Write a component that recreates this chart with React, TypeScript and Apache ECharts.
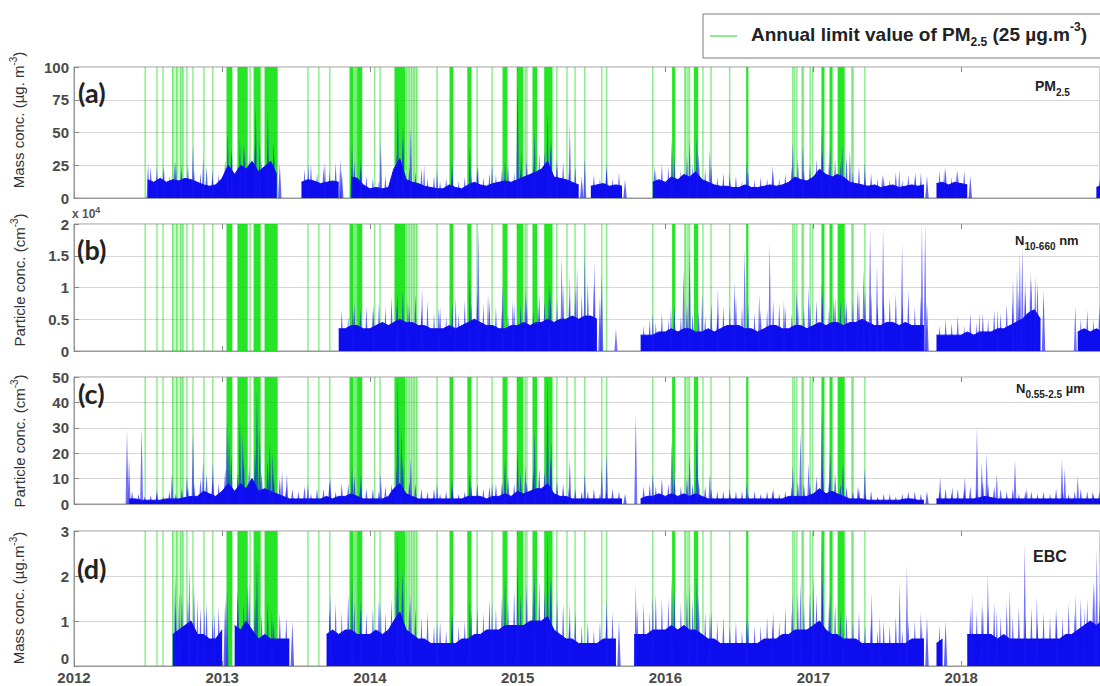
import React, { useEffect, useRef } from "react";
import * as echarts from "echarts";

const N = null;

// Half-month bins: 1st and 16th of each month, Jan 2012 ... Dec 2018 (24 per year)
const binYears = [2012, 2013, 2014, 2015, 2016, 2017, 2018];

// (a) PM2.5: dense-band upper level and half-month upper excursion (µg m-3)
const pm25Band = [
  N, N, N, N, N, N, N, N, N, N, N, N, 14, 12, 15, 12, 14, 13, 15, 14, 12, 10, 9, 10,
  15, 25, 18, 25, 22, 28, 20, 24, 28, 18, N, N, N, 12, 14, 13, 11, 12, 13, 12, N, 16, 15, 10,
  7, 8, 7, 8, 22, 30, 14, 12, 11, 9, 8, 7, 7, 10, 8, 7, 10, 12, 10, 9, 11, 12, 13, 12,
  14, 16, 18, 20, 22, 28, 16, 15, 14, 12, 10, N, 9, 10, 11, 9, 10, 9, N, N, N, N, 12, 14,
  12, 16, 14, 18, 16, 20, 14, 12, 10, 9, 9, 8, 8, 10, 8, 8, 9, 10, 9, 10, 12, 16, 14, 13,
  16, 22, 18, 16, 18, 16, 12, 11, 10, 9, 10, 8, 9, 10, 8, 9, 10, 9, 10, N, 11, 12, 10, 12,
  11, 10, N, N, N, N, N, N, N, N, N, N, N, N, N, N, N, N, N, N, N, N, 8, 10,
];
const pm25Fringe = [
  N, N, N, N, N, N, N, N, N, N, N, N, 24, 18, 22, 17, 28, 20, 26, 22, 19, 24, 15, 18,
  30, 36, 26, 40, 32, 44, 30, 38, 40, 26, N, N, N, 22, 26, 19, 24, 20, 27, 21, N, 28, 24, 17,
  15, 13, 17, 14, 34, 46, 24, 20, 23, 15, 17, 13, 15, 19, 13, 16, 17, 24, 16, 19, 18, 23, 26, 19,
  22, 30, 26, 34, 36, 42, 25, 28, 22, 24, 16, N, 18, 15, 22, 15, 19, 14, N, N, N, N, 21, 26,
  24, 30, 22, 32, 26, 34, 22, 25, 16, 19, 14, 17, 13, 20, 14, 16, 15, 20, 15, 19, 24, 30, 22, 26,
  30, 36, 27, 30, 28, 32, 20, 24, 16, 19, 15, 17, 14, 20, 14, 18, 16, 19, 17, N, 21, 24, 16, 22,
  21, 17, N, N, N, N, N, N, N, N, N, N, N, N, N, N, N, N, N, N, N, N, 14, 18,
];

// (b) N10-660nm (cm-3)
const n10Band = [
  N, N, N, N, N, N, N, N, N, N, N, N, N, N, N, N, N, N, N, N, N, N, N, N,
  N, N, N, N, N, N, N, N, N, N, N, N, N, N, N, N, N, N, N, 3500, 3500, 4000, 4000, 3500,
  3500, 4000, 4500, 4000, 4500, 5000, 4500, 4500, 4000, 4000, 3500, 3500, 3500, 4000, 3500, 4000, 4500, 5000, 4500, 4000, 4000, 3500, 3500, 4000,
  4000, 4500, 4000, 4500, 4500, 5000, 4500, 5000, 5000, 5500, 5000, 5500, 5500, 5000, N, N, N, N, N, N, 2500, 2500, 2500, 3000,
  3000, 3500, 3000, 3500, 3500, 3000, 3000, 3500, 3000, 3500, 4000, 4000, 4000, 3500, 3500, 3000, 3500, 4000, 4000, 3500, 3500, 4000, 4000, 3500,
  4000, 4500, 4000, 4500, 4500, 4000, 4500, 4500, 5000, 4500, 4000, 4000, 4500, 4500, 4000, 4500, 4000, 4000, 4000, N, 2500, 2500, 2500, 2500,
  2500, 3000, 2500, 3000, 3000, 3000, 3500, 3500, 4000, 4500, 5000, 6000, 6500, 5000, N, N, N, N, N, 3000, 3500, 3000, 3500, 3000,
];
const n10Fringe = [
  N, N, N, N, N, N, N, N, N, N, N, N, N, N, N, N, N, N, N, N, N, N, N, N,
  N, N, N, N, N, N, N, N, N, N, N, N, N, N, N, N, N, N, N, 6500, 5500, 7500, 6500, 7000,
  6500, 7500, 7000, 8500, 7500, 9500, 7000, 9000, 6500, 8000, 6000, 7000, 5500, 7500, 6000, 8000, 7500, 9500, 7500, 8000, 7000, 6500, 6000, 7500,
  7500, 8500, 6500, 9000, 8000, 9500, 8000, 10500, 8500, 10000, 9000, 11000, 10500, 8500, N, N, N, N, N, N, 4000, 5000, 4500, 6000,
  5000, 7000, 5500, 7500, 6000, 6500, 5500, 7500, 6000, 7000, 7000, 8500, 7000, 7500, 6000, 6500, 6500, 8000, 7500, 7000, 6000, 8000, 7000, 7500,
  8000, 9000, 7000, 8500, 8000, 8000, 8000, 9500, 9500, 9000, 7500, 8500, 8500, 9000, 7500, 9500, 7000, 8500, 7500, N, 4000, 5000, 4500, 5500,
  4000, 6000, 4500, 6000, 5000, 6500, 6000, 7500, 7500, 9500, 9500, 11500, 11000, 9500, N, N, N, N, N, 5000, 6500, 5000, 7000, 5000,
];

// (c) N0.55-2.5µm (cm-3)
const n055Band = [
  N, N, N, N, N, N, N, N, N, 2, 2, 1.5, 1.5, 1.5, 1.5, 2, 2, 2, 2.5, 3, 3, 5, 4, 3,
  5, 8, 5, 8, 6, 10, 5, 6, 5, 4, 3, 2, 2, 2, 2, 2, 2, 3, 2, 3, 3, 4, 3, 2,
  2, 2, 2, 3, 6, 8, 4, 3, 2, 2, 2, 2, 2, 2, 2, 2, 3, 3, 3, 2, 3, 3, 4, 3,
  5, 4, 5, 6, 6, 8, 4, 3, 3, 2, 2, 2, 2, 2, 2, 2, 2, 2, N, N, 2, 3, 3, 4,
  3, 4, 3, 4, 3, 4, 3, 2, 2, 2, 2, 2, 2, 2, 2, 2, 2, 2, 2, 2, 3, 3, 3, 3,
  4, 6, 4, 5, 4, 3, 2, 2, 2, 1.5, 1.5, 1.5, 1.5, 1.5, 1.5, 2, 2, 1.5, 1.5, N, 2, 2, 2, 2,
  2, 2, 2, 2.5, 3, 2.5, 2, 2, 2, 2, 2, 2, 2, 2, 2, 2, 2, 2, 2, 2, 2, 2, 2, 2,
];
const n055Fringe = [
  N, N, N, N, N, N, N, N, N, 5, 4, 3, 3.5, 4, 3, 5, 4, 6, 7, 8, 10, 12, 9, 8,
  14, 19, 12, 18, 15, 22, 13, 17, 11, 10, 7, 6, 5, 7, 4, 6, 6, 9, 5, 8, 8, 11, 7, 6,
  6, 5, 7, 8, 14, 18, 9, 8, 6, 5, 6, 4, 5, 6, 4, 5, 7, 8, 6, 7, 8, 9, 11, 8,
  12, 9, 13, 14, 13, 18, 9, 8, 7, 6, 5, 5, 6, 4, 5, 6, 5, 4, N, N, 7, 8, 7, 10,
  8, 11, 7, 10, 8, 10, 7, 6, 5, 5, 4, 5, 5, 4, 5, 4, 5, 6, 4, 5, 7, 9, 8, 8,
  11, 14, 9, 12, 8, 7, 5, 6, 4, 5, 3, 4, 4, 3, 4, 5, 5, 4, 5, N, 5, 6, 4, 6,
  6, 7, 6, 9, 8, 7, 6, 5, 6, 4, 5, 5, 4, 5, 4, 6, 5, 4, 5, 6, 5, 4, 5, 5,
];

// (d) EBC (µg m-3)
const ebcBand = [
  N, N, N, N, N, N, N, N, N, N, N, N, N, N, N, N, 0.7, 0.8, 0.9, 1.0, 0.7, 0.7, 0.6, 0.6,
  0.8, N, 0.9, 0.8, 1.0, 0.8, 0.6, 0.7, 0.6, 0.6, 0.6, 0.6, N, N, N, N, N, 0.7, 0.8, 0.7, 0.8, 0.8, 0.7, 0.7,
  0.7, 0.8, 0.7, 0.8, 1.0, 1.2, 0.8, 0.7, 0.6, 0.6, 0.5, 0.5, 0.5, 0.5, 0.5, 0.6, 0.6, 0.7, 0.7, 0.8, 0.8, 0.8, 0.9, 0.9,
  0.9, 0.9, 1.0, 1.0, 1.0, 1.1, 0.8, 0.7, 0.6, 0.6, 0.5, 0.5, 0.5, 0.5, 0.6, 0.6, 0.6, N, N, 0.7, 0.7, 0.7, 0.8, 0.8,
  0.8, 0.9, 0.8, 0.9, 0.8, 0.8, 0.7, 0.6, 0.6, 0.5, 0.5, 0.5, 0.5, 0.5, 0.5, 0.5, 0.6, 0.6, 0.6, 0.7, 0.7, 0.8, 0.8, 0.8,
  0.9, 1.0, 0.8, 0.7, 0.7, 0.6, 0.6, 0.6, 0.5, 0.5, 0.5, 0.5, 0.5, 0.5, 0.5, 0.5, 0.6, 0.6, 0.6, N, 0.5, 0.6, N, N,
  N, 0.7, 0.7, 0.7, 0.7, 0.7, 0.6, 0.7, 0.6, 0.6, 0.6, 0.6, 0.6, 0.6, 0.6, 0.6, 0.6, 0.7, 0.7, 0.8, 0.9, 1.0, 0.9, 1.0,
];
const ebcFringe = [
  N, N, N, N, N, N, N, N, N, N, N, N, N, N, N, N, 1.4, 1.6, 1.5, 1.8, 1.3, 1.4, 1.1, 1.3,
  1.5, N, 1.7, 1.4, 1.8, 1.5, 1.2, 1.4, 1.0, 1.2, 1.1, 1.0, N, N, N, N, N, 1.3, 1.4, 1.2, 1.6, 1.4, 1.3, 1.2,
  1.3, 1.5, 1.2, 1.5, 1.8, 2.0, 1.4, 1.3, 1.1, 1.2, 0.9, 1.0, 0.8, 1.1, 0.9, 1.0, 1.2, 1.3, 1.2, 1.5, 1.3, 1.6, 1.5, 1.7,
  1.6, 1.8, 1.7, 1.9, 1.7, 2.0, 1.5, 1.4, 1.0, 1.2, 0.9, 1.0, 0.8, 1.0, 1.1, 1.2, 1.0, N, N, 1.3, 1.4, 1.2, 1.6, 1.5,
  1.5, 1.7, 1.4, 1.6, 1.5, 1.6, 1.2, 1.2, 1.0, 1.1, 0.9, 1.0, 0.8, 1.0, 0.9, 0.9, 1.1, 1.2, 1.0, 1.3, 1.2, 1.6, 1.4, 1.6,
  1.6, 1.9, 1.4, 1.4, 1.2, 1.2, 1.0, 1.2, 0.9, 1.1, 0.8, 1.0, 0.9, 1.1, 0.8, 1.0, 1.0, 1.2, 1.1, N, 0.9, 1.0, N, N,
  N, 1.3, 1.2, 1.4, 1.3, 1.4, 1.1, 1.4, 1.1, 1.3, 1.1, 1.3, 1.0, 1.2, 1.1, 1.3, 1.1, 1.4, 1.2, 1.5, 1.5, 1.9, 1.5, 1.8,
];

// Individual spikes [date, value]
const pm25Peaks: [string, number][] = [
  ["2012-07-02", 27], ["2012-07-24", 24], ["2012-08-10", 25], ["2012-09-05", 28], ["2012-09-22", 26],
  ["2012-10-21", 40], ["2012-11-15", 31], ["2012-12-08", 22], ["2013-01-15", 53], ["2013-01-25", 38],
  ["2013-02-14", 46], ["2013-02-26", 40], ["2013-03-25", 72], ["2013-04-04", 45], ["2013-04-24", 66],
  ["2013-05-08", 42], ["2013-08-02", 26], ["2013-09-12", 28], ["2013-10-20", 30], ["2013-11-18", 41],
  ["2013-12-10", 30], ["2014-01-28", 44], ["2014-03-11", 78], ["2014-03-24", 56], ["2014-04-12", 54],
  ["2014-05-15", 25], ["2014-06-16", 22], ["2014-07-23", 30], ["2014-09-05", 40], ["2014-09-25", 25],
  ["2014-10-30", 26], ["2014-12-01", 29], ["2015-01-01", 91], ["2015-01-10", 35], ["2015-02-12", 52],
  ["2015-03-16", 67], ["2015-03-25", 45], ["2015-04-08", 30], ["2015-05-10", 57], ["2015-06-16", 30],
  ["2015-08-09", 27], ["2015-12-05", 25], ["2016-01-17", 45], ["2016-03-01", 45], ["2016-03-19", 48],
  ["2016-04-20", 37], ["2016-06-08", 20], ["2016-07-20", 27], ["2016-09-22", 25], ["2016-11-11", 43],
  ["2016-12-06", 40], ["2017-01-22", 57], ["2017-02-11", 40], ["2017-03-13", 40], ["2017-04-01", 37],
  ["2017-05-08", 27], ["2017-06-20", 18], ["2017-08-01", 22], ["2017-09-10", 20], ["2017-11-20", 22],
  ["2017-12-20", 20],
];

const n10Peaks: [string, number][] = [
  ["2013-11-20", 7000], ["2014-01-10", 7500], ["2014-03-10", 9500], ["2014-04-05", 8000], ["2014-05-10", 10000],
  ["2014-06-20", 7000], ["2014-08-01", 8500], ["2014-09-05", 12000], ["2014-09-26", 19500], ["2014-10-20", 9000],
  ["2014-11-25", 10500], ["2014-12-20", 8000], ["2015-01-20", 10000], ["2015-02-20", 9000], ["2015-03-20", 11000],
  ["2015-04-20", 15000], ["2015-05-10", 12000], ["2015-05-28", 13500], ["2015-06-16", 15500], ["2015-07-10", 14000],
  ["2015-07-28", 12000], ["2015-09-01", 3500], ["2015-12-01", 6000], ["2016-01-15", 7000], ["2016-02-15", 13000],
  ["2016-03-01", 16000], ["2016-04-01", 9000], ["2016-05-10", 10000], ["2016-06-20", 11000], ["2016-07-15", 16000],
  ["2016-08-20", 9000], ["2016-09-15", 17000], ["2016-10-20", 8000], ["2016-11-20", 9500], ["2016-12-20", 10000],
  ["2017-01-22", 11000], ["2017-02-20", 9000], ["2017-03-20", 8500], ["2017-04-20", 10000], ["2017-05-05", 13000],
  ["2017-05-21", 19500], ["2017-06-07", 13500], ["2017-06-22", 19500], ["2017-08-08", 17000], ["2017-09-26", 20000],
  ["2017-10-04", 20000], ["2018-02-15", 6000], ["2018-04-01", 6500], ["2018-05-09", 11500], ["2018-05-19", 13000],
  ["2018-05-26", 15500], ["2018-06-01", 16500], ["2018-06-08", 11000], ["2018-06-21", 12500], ["2018-07-03", 12000],
  ["2018-10-10", 7000],
];

const n055Peaks: [string, number][] = [
  ["2012-05-11", 29], ["2012-05-16", 18], ["2012-06-16", 30], ["2012-07-24", 5.5], ["2012-08-30", 12],
  ["2012-10-06", 11], ["2012-10-21", 28], ["2012-11-15", 17], ["2012-12-09", 16], ["2013-01-13", 33],
  ["2013-01-18", 28], ["2013-02-14", 35], ["2013-02-21", 28], ["2013-03-28", 45], ["2013-04-04", 30],
  ["2013-04-29", 24], ["2013-05-06", 20], ["2013-05-29", 13], ["2013-06-10", 12], ["2013-08-01", 8],
  ["2013-09-25", 10], ["2013-11-18", 15], ["2013-12-10", 12], ["2014-01-28", 12], ["2014-03-11", 50],
  ["2014-03-20", 30], ["2014-04-12", 18], ["2014-06-16", 8], ["2014-07-23", 10], ["2014-09-05", 12],
  ["2014-10-30", 8], ["2014-12-01", 18], ["2015-01-01", 22], ["2015-01-20", 15], ["2015-02-12", 30],
  ["2015-03-16", 50], ["2015-03-25", 25], ["2015-05-10", 18], ["2015-06-16", 12], ["2015-07-28", 15],
  ["2015-08-09", 20], ["2015-10-20", 35], ["2015-12-01", 12], ["2016-01-17", 25], ["2016-03-01", 20],
  ["2016-03-19", 30], ["2016-04-20", 12], ["2016-06-08", 6], ["2016-07-20", 8], ["2016-09-22", 5],
  ["2016-11-11", 15], ["2016-11-30", 28], ["2016-12-20", 16], ["2017-01-22", 38], ["2017-02-11", 22],
  ["2017-03-15", 16.5], ["2017-04-21", 7], ["2017-05-08", 14], ["2017-11-10", 10.7], ["2017-12-10", 6.7],
  ["2018-01-10", 10.7], ["2018-02-09", 30], ["2018-02-21", 16], ["2018-03-05", 20], ["2018-03-30", 12],
  ["2018-05-14", 17.5], ["2018-06-12", 6], ["2018-09-07", 17.5], ["2018-09-14", 14], ["2018-10-16", 11],
  ["2018-11-22", 5],
];

const ebcPeaks: [string, number][] = [
  ["2012-09-07", 2.05], ["2012-09-17", 1.7], ["2012-10-12", 2.25], ["2012-11-01", 1.5], ["2012-11-18", 1.3],
  ["2012-12-13", 1.2], ["2013-01-13", 1.7], ["2013-02-09", 1.6], ["2013-03-04", 1.8], ["2013-03-28", 2.4],
  ["2013-05-04", 1.2], ["2013-09-25", 1.6], ["2013-11-18", 2.0], ["2013-12-10", 1.5], ["2014-01-28", 1.4],
  ["2014-03-11", 3.0], ["2014-03-22", 2.2], ["2014-04-12", 1.6], ["2014-06-16", 1.0], ["2014-07-23", 1.2],
  ["2014-09-05", 1.5], ["2014-10-30", 1.4], ["2014-12-01", 2.0], ["2015-01-01", 2.4], ["2015-02-12", 2.2],
  ["2015-03-16", 3.0], ["2015-03-25", 2.0], ["2015-05-10", 1.4], ["2015-08-09", 1.5], ["2015-10-20", 1.8],
  ["2015-12-01", 1.6], ["2016-01-17", 2.0], ["2016-03-01", 1.8], ["2016-03-19", 2.0], ["2016-04-20", 1.2],
  ["2016-07-20", 1.1], ["2016-09-22", 1.0], ["2016-11-11", 1.6], ["2016-11-30", 1.9], ["2017-01-01", 2.05],
  ["2017-01-22", 2.95], ["2017-02-11", 1.7], ["2017-03-15", 0.9], ["2017-05-25", 1.65], ["2017-06-14", 1.1],
  ["2017-08-02", 1.85], ["2017-08-20", 2.25], ["2017-09-26", 0.9], ["2018-01-28", 1.6], ["2018-02-21", 1.3],
  ["2018-03-08", 2.05], ["2018-03-30", 1.25], ["2018-05-01", 1.7], ["2018-06-07", 2.7], ["2018-07-07", 1.55],
  ["2018-08-25", 1.15], ["2018-10-11", 1.6], ["2018-11-02", 1.3], ["2018-11-27", 1.85], ["2018-12-02", 2.6],
];

// Days exceeding the PM2.5 annual limit value (single days)
const exceedDays: string[] = [
  "2012-06-25", "2012-07-24", "2012-08-08", "2012-09-01", "2012-09-11", "2012-09-21", "2012-09-26",
  "2012-10-06", "2012-10-21", "2012-11-17", "2012-12-09", "2013-03-11", "2013-08-01", "2013-08-28",
  "2013-09-24", "2013-11-25", "2013-11-29", "2014-01-13", "2014-01-26", "2014-04-02", "2014-04-08",
  "2014-04-14", "2014-04-20", "2014-04-26", "2014-06-16", "2014-09-23", "2014-10-30", "2015-01-20",
  "2015-01-24", "2015-04-08", "2015-05-03", "2015-05-23", "2015-06-16", "2015-07-28", "2015-08-09",
  "2015-12-01", "2016-02-18", "2016-02-21", "2016-02-26", "2016-03-01", "2016-04-03", "2016-04-23",
  "2016-06-08", "2016-11-11", "2016-11-15", "2016-11-21", "2016-12-04", "2016-12-07", "2016-12-24",
  "2016-12-30", "2017-04-06", "2017-04-09", "2017-05-08",
];

// Runs of consecutive exceedance days
const exceedRuns: [string, string][] = [
  ["2013-01-13", "2013-01-25"], ["2013-02-09", "2013-03-04"], ["2013-03-21", "2013-04-05"],
  ["2013-04-17", "2013-05-17"], ["2013-11-13", "2013-11-20"], ["2013-12-02", "2013-12-12"],
  ["2014-03-04", "2014-03-28"], ["2014-07-18", "2014-07-25"], ["2014-08-31", "2014-09-08"],
  ["2014-11-26", "2014-12-06"], ["2014-12-31", "2015-01-14"], ["2015-02-08", "2015-02-17"],
  ["2015-03-09", "2015-03-27"], ["2016-01-19", "2016-01-24"], ["2016-03-13", "2016-03-21"],
  ["2016-07-20", "2016-07-23"], ["2017-01-22", "2017-01-27"], ["2017-02-11", "2017-02-16"],
  ["2017-03-03", "2017-03-18"],
];

// Periods with frequent (scattered) exceedance days
const exceedSparse: [string, string][] = [
  ["2012-08-30", "2012-09-28"], ["2013-11-20", "2013-12-02"], ["2014-03-28", "2014-05-01"],
];

const FONT = '"Liberation Sans", Arial, sans-serif';
const BLUE = "#0d0dee";
const DAY = 86400000;

const t = (s: string) => {
  const [y, m, d] = s.split("-").map(Number);
  return Date.UTC(y, m - 1, d);
};

const binTimes: number[] = [];
binYears.forEach((y) => {
  for (let m = 0; m < 12; m++) {
    binTimes.push(Date.UTC(y, m, 1));
    binTimes.push(Date.UTC(y, m, 16));
  }
});

function buildOption() {
  const boxes = [
    { top: 67, height: 131, min: 0, max: 100, interval: 25 },
    { top: 224, height: 127, min: 0, max: 20000, interval: 5000 },
    { top: 377, height: 127, min: 0, max: 50, interval: 10 },
    { top: 531, height: 135, min: 0, max: 3, interval: 1 },
  ];
  const bands = [pm25Band, n10Band, n055Band, ebcBand];
  const fringes = [pm25Fringe, n10Fringe, n055Fringe, ebcFringe];
  const peaks = [pm25Peaks, n10Peaks, n055Peaks, ebcPeaks];
  const xMin = Date.UTC(binYears[0], 0, 1);
  const xMax = Date.UTC(2018, 11, 10);

  const exceedItems: number[][] = [
    ...exceedSparse.map(([a, b]) => [t(a), t(b), 2]),
    ...exceedDays.map((d) => [t(d), t(d), 0]),
    ...exceedRuns.map(([a, b]) => [t(a), t(b), 1]),
  ];

  const greenRender = (params: any, api: any) => {
    const cs = params.coordSys;
    const xa = api.coord([api.value(0), 0])[0];
    const xb = api.coord([api.value(1), 0])[0];
    const kind = api.value(2);
    if (kind === 0) {
      return { type: "rect", shape: { x: xa - 0.75, y: cs.y, width: 1.5, height: cs.height }, style: { fill: "rgba(0,215,0,0.45)" } };
    }
    if (kind === 1) {
      return { type: "rect", shape: { x: xa - 0.5, y: cs.y, width: Math.max(xb - xa + 1, 1.5), height: cs.height }, style: { fill: "rgba(0,225,0,0.85)" } };
    }
    return { type: "rect", shape: { x: xa, y: cs.y, width: xb - xa, height: cs.height }, style: { fill: "rgba(0,220,0,0.2)" } };
  };

  const makeSpike = (half: number, fill: string) => (params: any, api: any) => {
    const tv = api.value(0);
    const v = api.value(1);
    const p0 = api.coord([tv, 0]);
    const p1 = api.coord([tv, v]);
    return {
      type: "polygon",
      shape: { points: [[p0[0] - half, p0[1]], [p1[0], p1[1]], [p0[0] + half, p0[1]]] },
      style: { fill },
    };
  };

  const grids = boxes.map((b) => ({
    left: 74, right: 0, top: b.top, height: b.height, show: true,
    borderColor: "#9a9a9a", borderWidth: 1, backgroundColor: "transparent",
  }));

  const xBottom = boxes.map((b, i) => ({
    type: "time", gridIndex: i, min: xMin, max: xMax,
    minInterval: 365 * DAY, maxInterval: 366 * DAY,
    axisLine: { show: true, lineStyle: { color: "#999" } },
    axisTick: { show: true, inside: true, length: 5, lineStyle: { color: "#888" } },
    axisLabel: {
      show: i === 3, margin: 4, color: "#4a4a4a", fontWeight: "bold", fontSize: 15, fontFamily: FONT,
      showMaxLabel: false,
      formatter: (v: number) => String(new Date(v).getUTCFullYear()),
    },
    splitLine: { show: false },
  }));
  const xTop = boxes.map((b, i) => ({
    type: "time", gridIndex: i, position: "top", min: xMin, max: xMax,
    minInterval: 365 * DAY, maxInterval: 366 * DAY,
    axisLine: { show: false },
    axisTick: { show: true, inside: true, length: 5, lineStyle: { color: "#888" } },
    axisLabel: { show: false },
    splitLine: { show: false },
  }));

  const yAxes = boxes.map((b, i) => ({
    type: "value", gridIndex: i, min: b.min, max: b.max, interval: b.interval,
    axisLine: { show: true, lineStyle: { color: "#999" } },
    axisTick: { show: true, inside: true, length: 5, lineStyle: { color: "#888" } },
    axisLabel: {
      margin: 5, color: "#4a4a4a", fontWeight: "bold", fontSize: 15, fontFamily: FONT,
      verticalAlignMinLabel: i === 3 ? "bottom" : undefined,
      formatter: (v: number) => (i === 1 ? String(v / 10000) : String(v)),
    },
    splitLine: { show: true, lineStyle: { color: "#d6d6d6", width: 1 } },
  }));

  const series: any[] = [];
  boxes.forEach((b, i) => {
    series.push({
      type: "custom", xAxisIndex: i, yAxisIndex: i, z: 1, silent: true,
      renderItem: greenRender, encode: { x: [0, 1] }, data: exceedItems, clip: true,
    });
    const fr: any[] = [];
    fringes[i].forEach((f, k) => {
      if (f !== null) fr.push([binTimes[k] + 7.5 * DAY, Math.min(f, b.max)]);
    });
    series.push({
      type: "custom", xAxisIndex: i, yAxisIndex: i, z: 2, silent: true,
      renderItem: makeSpike(1.7, "rgba(25,25,245,0.68)"), encode: { x: 0, y: 1 }, clip: true, data: fr,
    });
    series.push({
      type: "line", xAxisIndex: i, yAxisIndex: i, z: 3, silent: true,
      data: bands[i].map((v, k) => [binTimes[k], v]),
      showSymbol: false, symbol: "none", connectNulls: false,
      lineStyle: { color: BLUE, width: 1 },
      areaStyle: { color: BLUE, opacity: 1 },
    });
    series.push({
      type: "custom", xAxisIndex: i, yAxisIndex: i, z: 4, silent: true,
      renderItem: makeSpike(1.5, "rgba(20,20,250,0.6)"), encode: { x: 0, y: 1 }, clip: true,
      data: peaks[i].map(([d, v]) => [t(d), Math.min(v, b.max)]),
    });
  });

  const txt = (x: number, y: number, text: string, rich: any, extra: any = {}) => ({
    type: "text", x, y, z: 100, ...extra,
    style: {
      text, rich, fontFamily: FONT, fill: "#222",
      align: "left", textAlign: "left", verticalAlign: "middle", textVerticalAlign: "middle",
    },
  });

  const sup = { fontSize: 10, fontFamily: FONT, padding: [0, 0, 9, 0], fill: "#333", color: "#333" };
  const yTitleStyle = { fontSize: 15, fontFamily: FONT, fill: "#333", color: "#333" };
  const yTitle = (x: number, y: number, text: string) => ({
    type: "text", x, y, rotation: Math.PI / 2, z: 100,
    style: {
      text, fontSize: 15, fontFamily: FONT, fill: "#333",
      align: "center", textAlign: "center", verticalAlign: "middle", textVerticalAlign: "middle",
      rich: { n: yTitleStyle, p: sup },
    },
  });

  const bold = (size: number) => ({ fontSize: size, fontWeight: "bold", fontFamily: FONT, fill: "#222", color: "#222" });
  const subB = (size: number, pad: number) => ({ ...bold(size), padding: [pad, 0, 0, 0] });
  const supB = (size: number, pad: number) => ({ ...bold(size), padding: [0, 0, pad, 0] });

  const letter = (x: number, y: number, s: string) => ({
    type: "text", x, y, z: 100,
    style: {
      text: s, fontSize: 27, fontWeight: "bold", fontFamily: "Lato, 'Open Sans', sans-serif", fill: "#222",
      align: "left", textAlign: "left", verticalAlign: "middle", textVerticalAlign: "middle",
    },
  });

  const graphic: any[] = [
    { type: "rect", z: 100, shape: { x: 703, y: 14, width: 420, height: 44 }, style: { fill: "#fff", stroke: "#7a7a7a", lineWidth: 1 } },
    { type: "line", z: 101, shape: { x1: 710, y1: 36, x2: 737, y2: 36 }, style: { stroke: "rgba(0,215,0,0.6)", lineWidth: 1.5 } },
    txt(751, 34, "{m|Annual limit value of PM}{s|2.5}{m| (25 µg.m}{p|-3}{m|)}", {
      m: bold(19), s: subB(12, 16), p: supB(12, 14),
    }, { z: 101 }),
    letter(78, 92, "(a)"),
    letter(77, 249, "(b)"),
    letter(78, 393, "(c)"),
    letter(77, 568, "(d)"),
    txt(1035, 86, "{m|PM}{s|2.5}", { m: bold(14), s: subB(10, 12) }),
    txt(1015, 240, "{m|N}{s|10-660}{m| nm}", { m: bold(13), s: subB(10, 12) }),
    txt(1016, 388, "{m|N}{s|0.55-2.5}{m| µm}", { m: bold(13), s: subB(10, 12) }),
    txt(1033, 556, "{m|EBC}", { m: bold(16) }),
    txt(72, 214, "{m|x 10}{p|4}", {
      m: { fontSize: 12, fontWeight: "bold", fontFamily: FONT, fill: "#555", color: "#555" },
      p: { fontSize: 9, fontWeight: "bold", fontFamily: FONT, fill: "#555", color: "#555", padding: [0, 0, 9, 0] },
    }),
    yTitle(18, 120, "{n|Mass conc. (µg. m}{p|-3}{n|)}"),
    yTitle(19, 280, "{n|Particle conc. (cm}{p|-3}{n|)}"),
    yTitle(19, 441, "{n|Particle conc. (cm}{p|-3}{n|)}"),
    yTitle(18, 598, "{n|Mass conc. (µg.m}{p|-3}{n|)}"),
  ];

  return {
    animation: false,
    useUTC: true,
    backgroundColor: "#fff",
    grid: grids,
    xAxis: [...xBottom, ...xTop],
    yAxis: yAxes,
    series,
    graphic,
  };
}

export default function App() {
  const ref = useRef<HTMLDivElement>(null);
  useEffect(() => {
    const chart = echarts.init(ref.current!, undefined, { renderer: "svg" });
    chart.setOption(buildOption() as any);
    return () => chart.dispose();
  }, []);
  return (
    <div
      ref={ref}
      style={{ position: "fixed", left: 0, top: 0, width: 1100, height: 686, background: "#fff" }}
    />
  );
}
